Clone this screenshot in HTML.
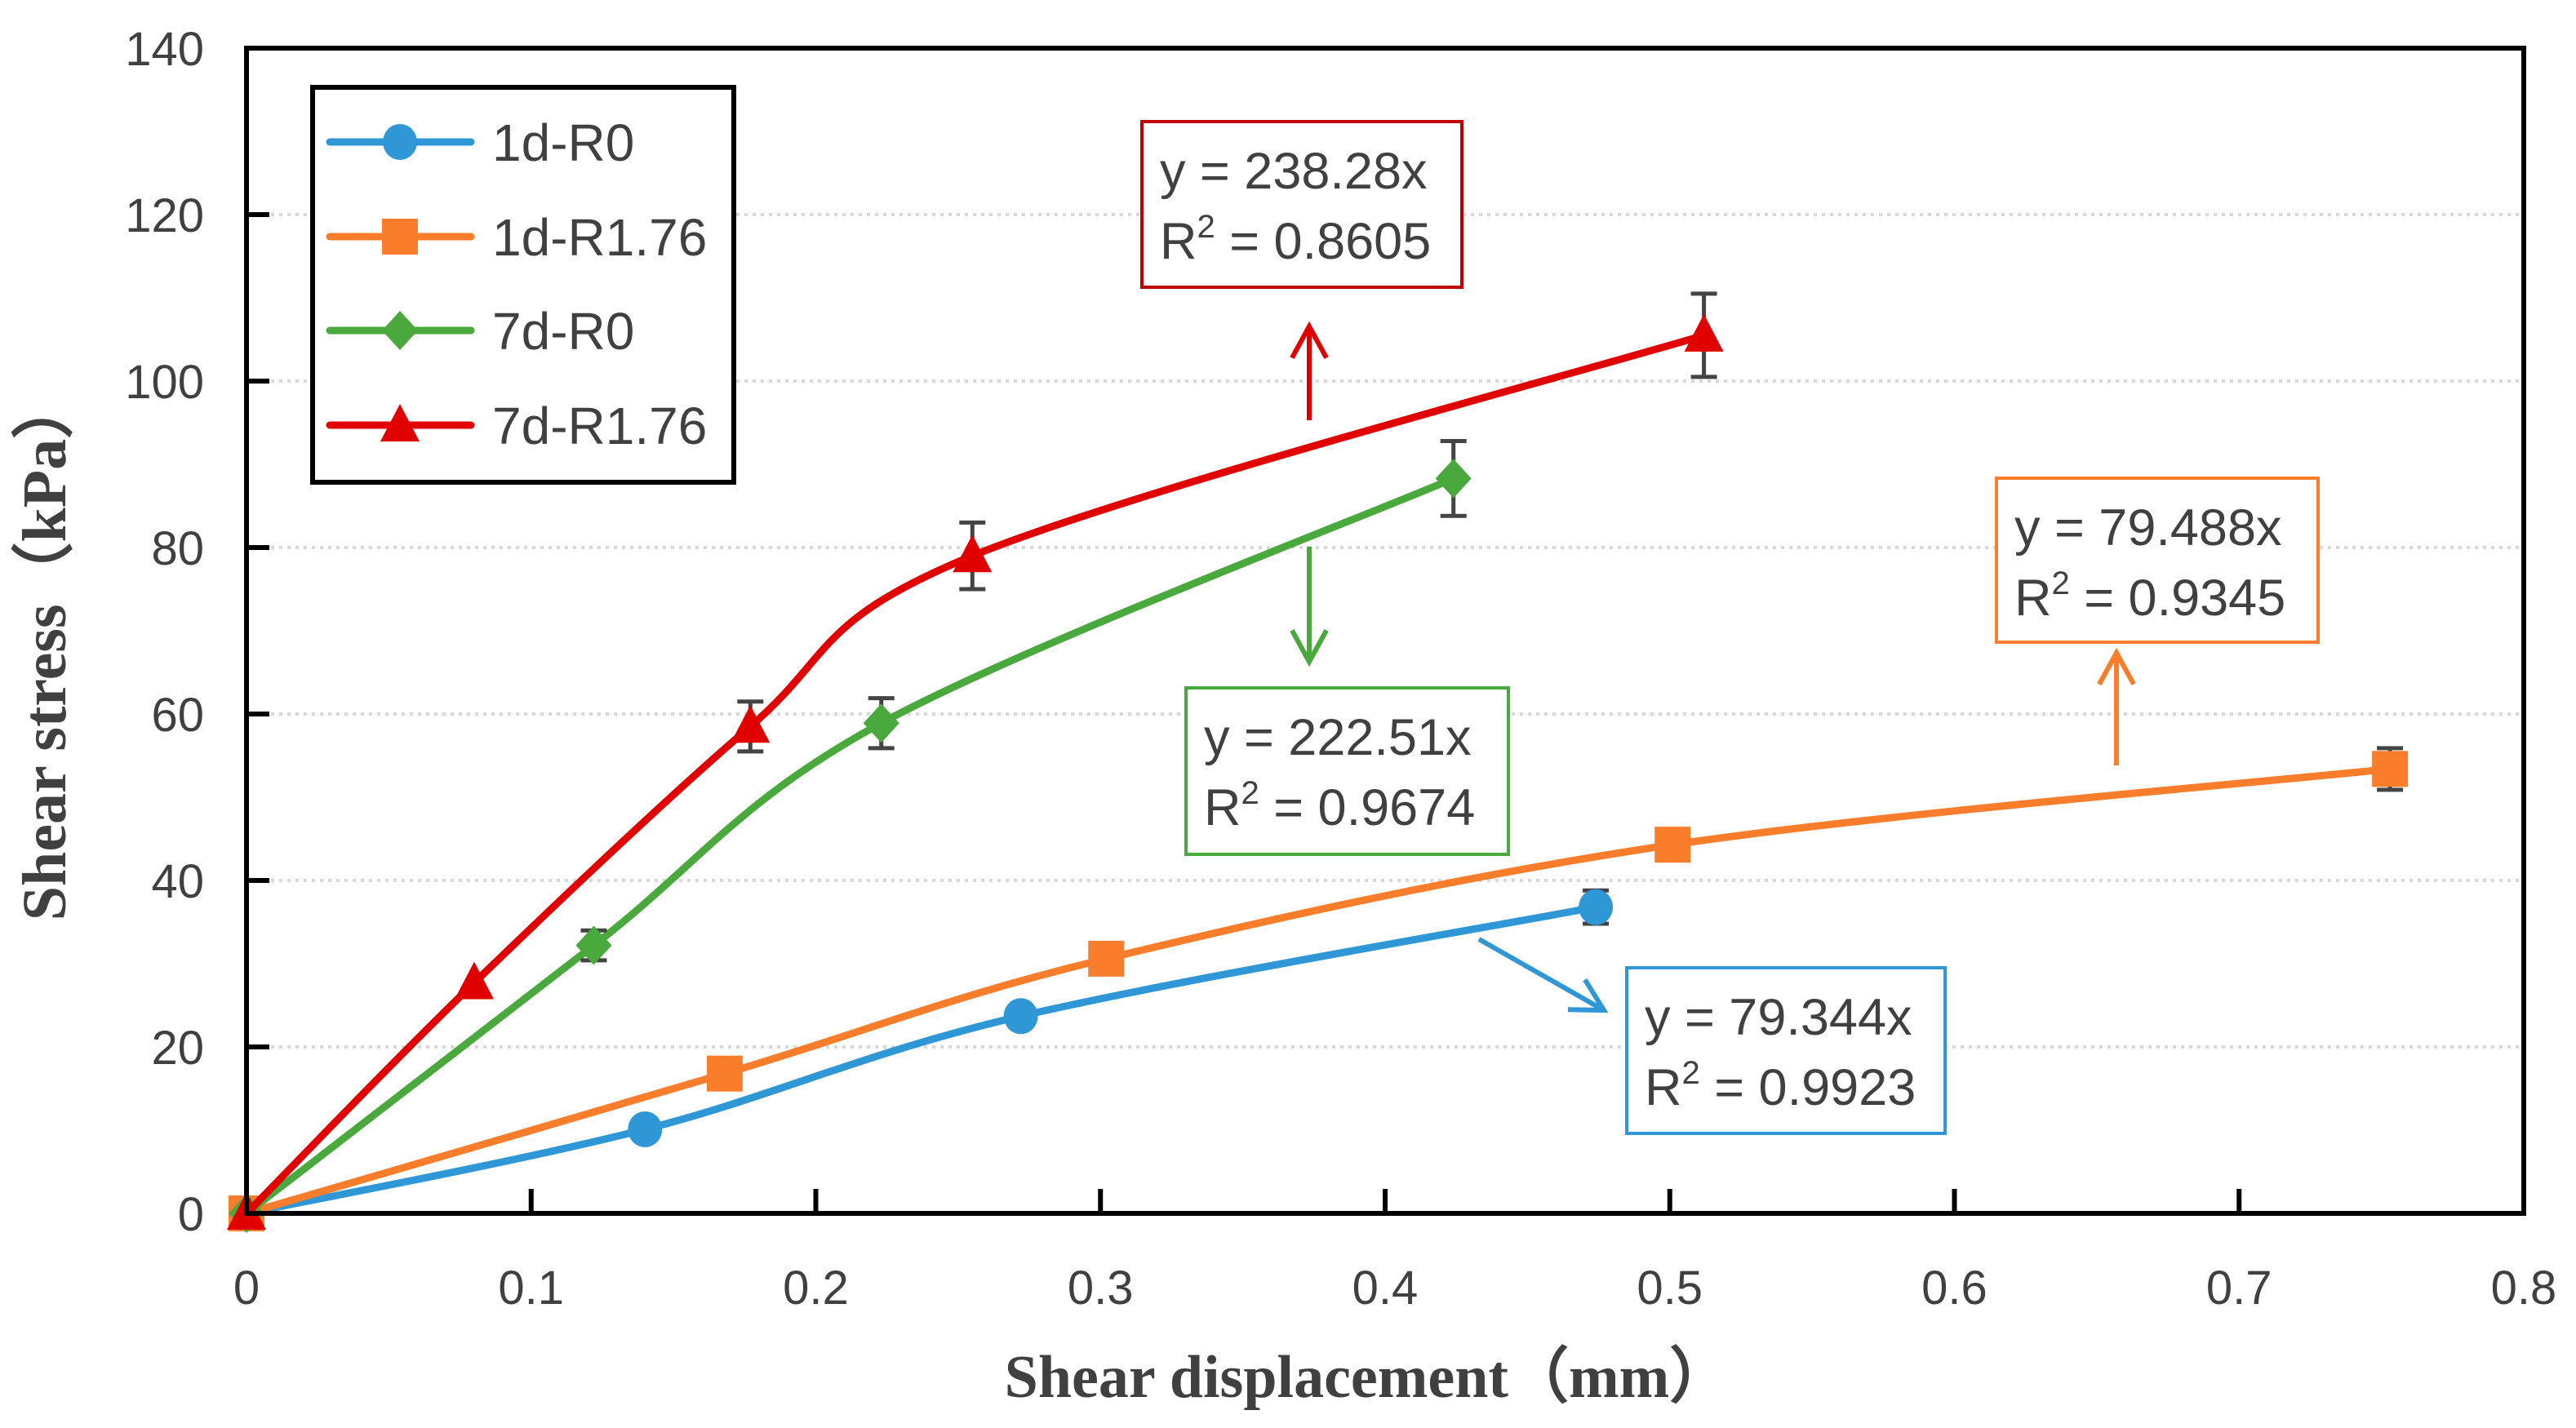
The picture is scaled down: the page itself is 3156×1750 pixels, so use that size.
<!DOCTYPE html>
<html><head><meta charset="utf-8"><style>
html,body{margin:0;padding:0;background:#fff;}
svg{display:block;}
</style></head><body>
<svg id="chart" width="3156" height="1750" viewBox="0 0 3156 1750" xmlns="http://www.w3.org/2000/svg">
<g id="grid"></g>
<g id="series"></g>
<g id="axes"></g>
<g id="annot"></g>
<g id="legend"></g>
</svg>
<script>
const xTicks = [0, 0.1, 0.2, 0.3, 0.4, 0.5, 0.6, 0.7, 0.8];
const xTickLabels = ["0", "0.1", "0.2", "0.3", "0.4", "0.5", "0.6", "0.7", "0.8"];
const yTicks = [0, 20, 40, 60, 80, 100, 120, 140];
const yTickLabels = ["0", "20", "40", "60", "80", "100", "120", "140"];
const seriesNames = ["1d-R0", "1d-R1.76", "7d-R0", "7d-R1.76"];
const x1dR0 = [0, 0.14, 0.272, 0.474];
const y1dR0 = [0, 10.1, 23.7, 36.8];
const e1dR0 = [0, 0, 0, 2];
const x1dR176 = [0, 0.168, 0.302, 0.501, 0.753];
const y1dR176 = [0, 16.8, 30.6, 44.3, 53.4];
const e1dR176 = [0, 0, 0, 0, 2.5];
const x7dR0 = [0, 0.122, 0.223, 0.424];
const y7dR0 = [0, 32.2, 58.9, 88.3];
const e7dR0 = [0, 1.8, 3, 4.5];
const x7dR176 = [0, 0.08, 0.177, 0.255, 0.512];
const y7dR176 = [0, 27.7, 58.5, 79, 105.5];
const e7dR176 = [0, 0, 3, 4, 5];

const X0 = 302, X1 = 3092, Y0 = 1487, Y1 = 59;
const sx = v => X0 + (v - 0) / 0.8 * (X1 - X0);
const sy = v => Y0 - v / 140 * (Y0 - Y1);
const NS = "http://www.w3.org/2000/svg";
function mk(parent, tag, attrs) {
  const e = document.createElementNS(NS, tag);
  for (const k in attrs) e.setAttribute(k, attrs[k]);
  parent.appendChild(e);
  return e;
}
const grid = document.getElementById('grid');
const axes = document.getElementById('axes');
const series = document.getElementById('series');
const annot = document.getElementById('annot');
const legend = document.getElementById('legend');
const FONT = '"Liberation Sans", "DejaVu Sans", sans-serif';

yTicks.forEach((t, i) => {
  if (t > 0 && t < 140) {
    const g = mk(grid, 'line', {x1: X0, x2: X1, y1: sy(t), y2: sy(t), stroke: '#d9d9d9', 'stroke-width': 4, 'stroke-dasharray': '4 6'});
    
    
  }
  const lab = mk(axes, 'text', {x: 250, y: sy(t) + 21, 'text-anchor': 'end', 'font-family': FONT, 'font-size': 58, fill: '#404040'});
  lab.textContent = yTickLabels[i];
  
  
  if (t > 0 && t < 140) {
    const tk = mk(axes, 'line', {x1: X0, x2: X0 + 28, y1: sy(t), y2: sy(t), stroke: '#000', 'stroke-width': 6});
    
    
  }
});
xTicks.forEach((t, i) => {
  const lab = mk(axes, 'text', {x: sx(t), y: 1598, 'text-anchor': 'middle', 'font-family': FONT, 'font-size': 58, fill: '#404040'});
  lab.textContent = xTickLabels[i];
  
  
  if (t > 0 && t < 0.8) {
    const tk = mk(axes, 'line', {x1: sx(t), x2: sx(t), y1: Y0, y2: Y0 - 30, stroke: '#000', 'stroke-width': 6});
    
    
  }
});
const frame = mk(axes, 'rect', {x: X0, y: Y1, width: X1 - X0, height: Y0 - Y1, fill: 'none', stroke: '#000', 'stroke-width': 6});



const xt = mk(axes, 'text', {x: 1675, y: 1712, 'text-anchor': 'middle', 'font-family': '"Liberation Serif", serif', 'font-weight': 'bold', 'font-size': 74, fill: '#404040'});
xt.textContent = 'Shear displacement（mm）';


const yt = mk(axes, 'text', {x: 0, y: 0, transform: 'translate(80,795) rotate(-90)', 'text-anchor': 'middle', 'font-family': '"Liberation Serif", serif', 'font-weight': 'bold', 'font-size': 76, fill: '#404040'});
yt.textContent = 'Shear stress（kPa）';



function smoothPath(pts) {
  let d = 'M' + pts[0][0] + ',' + pts[0][1];
  for (let i = 0; i < pts.length - 1; i++) {
    const p0 = pts[Math.max(0, i - 1)], p1 = pts[i], p2 = pts[i + 1], p3 = pts[Math.min(pts.length - 1, i + 2)];
    const t = 1 / 6;
    const c1 = [p1[0] + (p2[0] - p0[0]) * t, p1[1] + (p2[1] - p0[1]) * t];
    const c2 = [p2[0] - (p3[0] - p1[0]) * t, p2[1] - (p3[1] - p1[1]) * t];
    d += ' C' + c1 + ' ' + c2 + ' ' + p2;
  }
  return d;
}
function marker(g, type, cx, cy, color) {
  let m;
  if (type === 'circle') m = mk(g, 'ellipse', {cx, cy, rx: 21, ry: 22, fill: color});
  else if (type === 'square') m = mk(g, 'rect', {x: cx - 22, y: cy - 22, width: 44, height: 44, fill: color});
  else if (type === 'diamond') m = mk(g, 'polygon', {points: `${cx},${cy - 24} ${cx + 22},${cy} ${cx},${cy + 24} ${cx - 22},${cy}`, fill: color});
  else m = mk(g, 'polygon', {points: `${cx},${cy - 26} ${cx + 24},${cy + 20} ${cx - 24},${cy + 20}`, fill: color});
  return m;
}
const defs = [
  {name: '1d-R0', xs: x1dR0, ys: y1dR0, es: e1dR0, color: '#2f97d6', type: 'circle'},
  {name: '1d-R1.76', xs: x1dR176, ys: y1dR176, es: e1dR176, color: '#f97d2a', type: 'square'},
  {name: '7d-R0', xs: x7dR0, ys: y7dR0, es: e7dR0, color: '#49a93c', type: 'diamond'},
  {name: '7d-R1.76', xs: x7dR176, ys: y7dR176, es: e7dR176, color: '#e00000', type: 'triangle'}
];
defs.forEach(s => {
  const g = mk(series, 'g', {});
  
  
  const pts = s.xs.map((x, i) => [sx(x), sy(s.ys[i])]);
  const p = mk(g, 'path', {d: smoothPath(pts), fill: 'none', stroke: s.color, 'stroke-width': 9, 'stroke-linejoin': 'round'});
  
  
  s.xs.forEach((x, i) => {
    const cx = sx(x), cy = sy(s.ys[i]);
    if (s.es[i] > 0) {
      const hi = sy(s.ys[i] + s.es[i]), lo = sy(s.ys[i] - s.es[i]);
      const eb = mk(g, 'path', {d: `M${cx},${hi} V${lo} M${cx - 16},${hi} H${cx + 16} M${cx - 16},${lo} H${cx + 16}`, stroke: '#444', 'stroke-width': 5, fill: 'none'});
      
      
    }
    const m = marker(g, s.type, cx, cy, s.color);
    
    
  });
});

function box(x, y, w, h, color, l1, r2, name) {
  const g = mk(annot, 'g', {});
  
  
  mk(g, 'rect', {x, y, width: w, height: h, fill: '#fff', stroke: color, 'stroke-width': 4});
  const t1 = mk(g, 'text', {x: x + 22, y: y + 82, 'font-family': FONT, 'font-size': 63, fill: '#404040'});
  t1.textContent = l1;
  const t2 = mk(g, 'text', {x: x + 22, y: y + 168, 'font-family': FONT, 'font-size': 63, fill: '#404040'});
  t2.appendChild(document.createTextNode('R'));
  const sup = mk(t2, 'tspan', {'font-size': 40, dy: -26});
  sup.textContent = '2';
  const rest = mk(t2, 'tspan', {dy: 26});
  rest.textContent = ' = ' + r2;
}
function arrow(x1, y1, x2, y2, color, name) {
  const a = Math.atan2(y2 - y1, x2 - x1), L = 44, sp = 0.5;
  const ax1 = x2 - L * Math.cos(a - sp), ay1 = y2 - L * Math.sin(a - sp);
  const ax2 = x2 - L * Math.cos(a + sp), ay2 = y2 - L * Math.sin(a + sp);
  const p = mk(annot, 'path', {d: `M${x1},${y1} L${x2},${y2} M${ax1},${ay1} L${x2},${y2} L${ax2},${ay2}`, stroke: color, 'stroke-width': 6, fill: 'none'});
  
  
}
box(1399, 149, 392, 203, '#c00000', 'y = 238.28x', '0.8605', 'fit-label-7d-R1.76');
arrow(1604, 515, 1604, 400, '#e00000', 'arrow-7d-R1.76');
box(1453, 843, 395, 204, '#49a93c', 'y = 222.51x', '0.9674', 'fit-label-7d-R0');
arrow(1604, 670, 1604, 811, '#49a93c', 'arrow-7d-R0');
box(2446, 586, 394, 201, '#f97d2a', 'y = 79.488x', '0.9345', 'fit-label-1d-R1.76');
arrow(2593, 938, 2593, 800, '#f97d2a', 'arrow-1d-R1.76');
box(1993, 1186, 390, 203, '#2f97d6', 'y = 79.344x', '0.9923', 'fit-label-1d-R0');
arrow(1812, 1151, 1965, 1238, '#2f97d6', 'arrow-1d-R0');

const lb = mk(legend, 'rect', {x: 383, y: 107, width: 516, height: 484, fill: '#fff', stroke: '#000', 'stroke-width': 6});


const ly = [174, 290, 405, 521];
defs.forEach((s, i) => {
  const g = mk(legend, 'g', {});
  
  
  mk(g, 'line', {x1: 404, x2: 577, y1: ly[i], y2: ly[i], stroke: s.color, 'stroke-width': 9, 'stroke-linecap': 'round'});
  marker(g, s.type, 490, ly[i], s.color);
  const t = mk(g, 'text', {x: 603, y: ly[i] + 23, 'font-family': FONT, 'font-size': 64, fill: '#404040'});
  t.textContent = seriesNames[i];
});
</script>
</body></html>
